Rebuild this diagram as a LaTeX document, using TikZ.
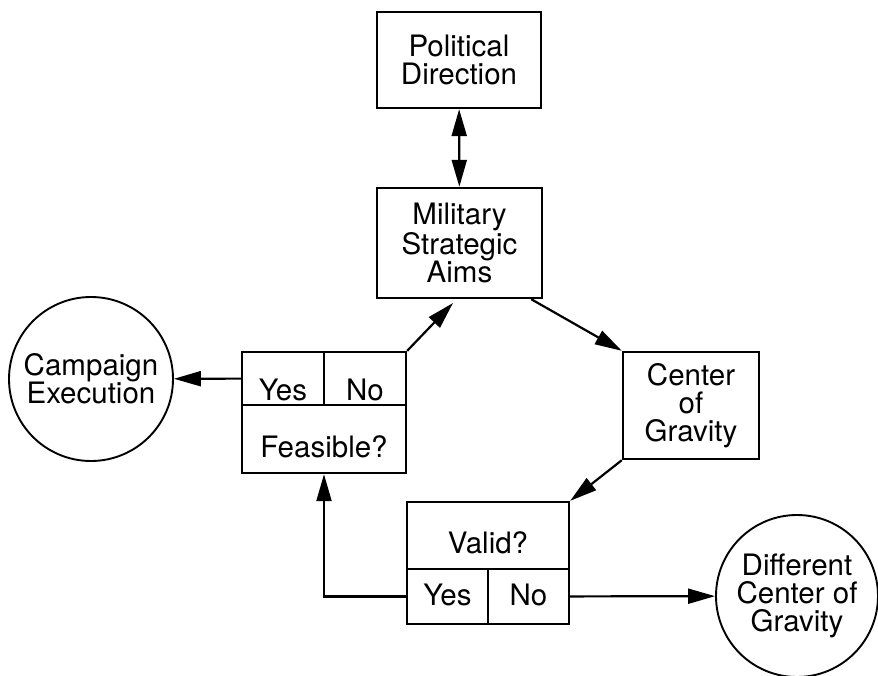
\documentclass[tikz,border=0pt]{standalone}
\usepackage{fontspec}
\setmainfont{TeX Gyre Heros}
\usetikzlibrary{arrows.meta,calc}

\begin{document}
\begin{tikzpicture}[x=1pt,y=-1pt,>={Triangle[length=27pt,width=15pt]},
  every node/.style={font=\fontsize{29.5}{28}\selectfont},
  box/.style={draw,line width=2.4pt,align=center,inner sep=0pt},
  drop/.style={text height=#1,text depth=0pt},
  disc/.style={draw,circle,line width=1.9pt,align=center,inner sep=0pt},
  flow/.style={line width=2.2pt}]
\useasboundingbox (0,0) rectangle (878,676);
\node[box,minimum width=164pt,minimum height=96pt] (pol) at (459,60) {Political\\Direction};
\node[box,minimum width=165pt,minimum height=110pt] (mil) at (459.5,243) {Military\\Strategic\\Aims};
\node[box,minimum width=136pt,minimum height=107pt] (cog) at (691,405.5) {Center\\of\\Gravity};
\node[box,drop=44pt,minimum width=82pt,minimum height=53pt] (feasyes) at (283,378.5) {Yes};
\node[box,drop=44pt,minimum width=82pt,minimum height=53pt] (feasno) at (365,378.5) {No};
\node[box,drop=36pt,minimum width=164pt,minimum height=68pt] (feas) at (324,439) {Feasible?};
\node[box,drop=36pt,minimum width=162pt,minimum height=67pt] (valid) at (488,535.5) {Valid?};
\node[box,drop=17pt,minimum width=81pt,minimum height=55pt] (validyes) at (447.5,596.5) {Yes};
\node[box,drop=17pt,minimum width=81pt,minimum height=55pt] (validno) at (528.5,596.5) {No};
\node[disc,minimum size=164pt] (camp) at (91,379) {Campaign\\Execution};
\node[disc,minimum size=162pt] (diff) at (797,596) {Different\\Center of\\Gravity};
% free end of the feasibility loop, just short of the aims box
\coordinate (aimsin) at (453,303);
\draw[flow,<->] (pol) -- (mil);
\draw[flow,->] ($(mil.south east)+(-12,0)$) -- (cog.north west);
\draw[flow,->] (cog.south west) -- (valid.north east);
\draw[flow,->] (validno) -- (diff);
\draw[flow,->] (validyes.west) -| (feas.south);
\draw[flow,->] (feasno.north east) -- (aimsin);
\draw[flow,->] (feasyes) -- (camp);
\end{tikzpicture}
\end{document}
